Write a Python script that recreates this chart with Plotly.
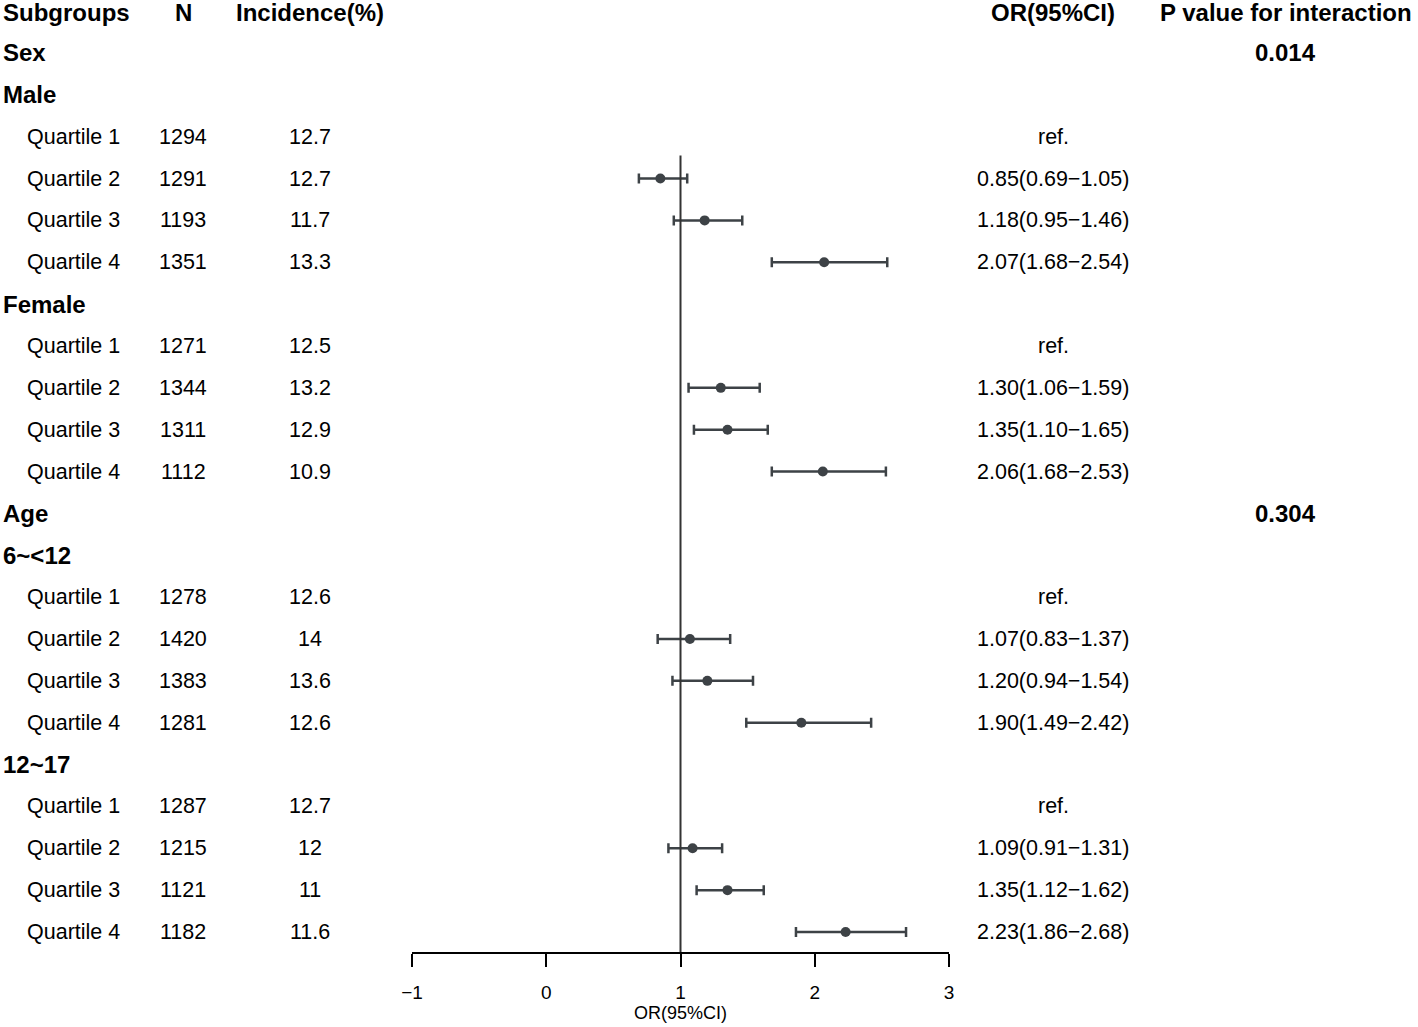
import plotly.graph_objects as go

# Row data (top to bottom, header excluded)
row_labels = ["Sex", "Male", "Quartile 1", "Quartile 2", "Quartile 3", "Quartile 4",
              "Female", "Quartile 1", "Quartile 2", "Quartile 3", "Quartile 4",
              "Age", "6~<12", "Quartile 1", "Quartile 2", "Quartile 3", "Quartile 4",
              "12~17", "Quartile 1", "Quartile 2", "Quartile 3", "Quartile 4"]
n_vals = ["", "", "1294", "1291", "1193", "1351",
          "", "1271", "1344", "1311", "1112",
          "", "", "1278", "1420", "1383", "1281",
          "", "1287", "1215", "1121", "1182"]
incidence = ["", "", "12.7", "12.7", "11.7", "13.3",
             "", "12.5", "13.2", "12.9", "10.9",
             "", "", "12.6", "14", "13.6", "12.6",
             "", "12.7", "12", "11", "11.6"]
or_est = [None, None, None, 0.85, 1.18, 2.07,
          None, None, 1.30, 1.35, 2.06,
          None, None, None, 1.07, 1.20, 1.90,
          None, None, 1.09, 1.35, 2.23]
ci_low = [None, None, None, 0.69, 0.95, 1.68,
          None, None, 1.06, 1.10, 1.68,
          None, None, None, 0.83, 0.94, 1.49,
          None, None, 0.91, 1.12, 1.86]
ci_high = [None, None, None, 1.05, 1.46, 2.54,
           None, None, 1.59, 1.65, 2.53,
           None, None, None, 1.37, 1.54, 2.42,
           None, None, 1.31, 1.62, 2.68]
p_interaction = ["0.014", "", "", "", "", "",
                 "", "", "", "", "",
                 "0.304", "", "", "", "", "",
                 "", "", "", "", ""]
headers = ["Subgroups", "N", "Incidence(%)", "OR(95%CI)", "P value for interaction"]
x_ticks = [-1, 0, 1, 2, 3]

FONT = "Liberation Sans, Arial, sans-serif"
W, H = 1418, 1027
PL, PR = 412, 949          # plot area in px
ROW0, STEP = 11.1, 41.86   # row centres in px
AX_Y = 952


def px_x(p):
    return (p - PL) / (PR - PL)


ys = list(range(1, len(row_labels) + 1))

fig = go.Figure()

fig.add_trace(go.Scatter(
    x=or_est, y=ys, mode="markers",
    marker=dict(size=10, color="#3d4246"),
    error_x=dict(type="data", symmetric=False,
                 array=[None if e is None else h - e for e, h in zip(or_est, ci_high)],
                 arrayminus=[None if e is None else e - l for e, l in zip(or_est, ci_low)],
                 color="#3d4246", thickness=2.5, width=5),
    showlegend=False, hoverinfo="skip"))

# reference line at OR = 1
fig.add_shape(type="line", xref="x", yref="y", x0=1, x1=1,
              y0=3.45, y1=(AX_Y - ROW0) / STEP,
              line=dict(color="#333333", width=2))

ann = []
col_x = {"N": px_x(183), "inc": px_x(310), "or": px_x(1053), "p": px_x(1285.5)}

# headers (nudged a touch lower so the text box stays inside the page)
hy = 0.03
ann.append(dict(x=px_x(2), y=hy, text="<b>%s</b>" % headers[0], xanchor="left", size=24))
ann.append(dict(x=col_x["N"], y=hy, text="<b>%s</b>" % headers[1], xanchor="center", size=24))
ann.append(dict(x=col_x["inc"], y=hy, text="<b>%s</b>" % headers[2], xanchor="center", size=24))
ann.append(dict(x=col_x["or"], y=hy, text="<b>%s</b>" % headers[3], xanchor="center", size=24))
ann.append(dict(x=col_x["p"], y=hy, text="<b>%s</b>" % headers[4], xanchor="center", size=24))

for i, lab in enumerate(row_labels):
    y = ys[i]
    is_q = lab.startswith("Quartile")
    if is_q:
        ann.append(dict(x=px_x(26), y=y, text=lab, xanchor="left", size=21.5))
    else:
        ann.append(dict(x=px_x(2), y=y, text="<b>%s</b>" % lab, xanchor="left", size=24))
    if n_vals[i]:
        ann.append(dict(x=col_x["N"], y=y, text=n_vals[i], xanchor="center", size=21.5))
    if incidence[i]:
        ann.append(dict(x=col_x["inc"], y=y, text=incidence[i], xanchor="center", size=21.5))
    if is_q:
        if or_est[i] is None:
            t = "ref."
        else:
            t = "%.2f(%.2f\u2212%.2f)" % (or_est[i], ci_low[i], ci_high[i])
        ann.append(dict(x=col_x["or"], y=y, text=t, xanchor="center", size=21.5))
    if p_interaction[i]:
        ann.append(dict(x=col_x["p"], y=y, text="<b>%s</b>" % p_interaction[i],
                        xanchor="center", size=24))

for a in ann:
    fig.add_annotation(x=a["x"], y=a["y"], xref="paper", yref="y", text=a["text"],
                       xanchor=a["xanchor"], yanchor="middle", showarrow=False,
                       borderpad=0,
                       font=dict(family=FONT, size=a["size"], color="black"))

fig.update_layout(
    width=W, height=H,
    margin=dict(l=PL, r=W - PR, t=0, b=H - AX_Y, pad=0),
    plot_bgcolor="white", paper_bgcolor="white",
    font=dict(family=FONT, color="black"),
    xaxis=dict(range=[-1, 3], tickvals=x_ticks, showgrid=False, zeroline=False,
               showline=True, linecolor="black", linewidth=1.5,
               ticks="outside", ticklen=13, tickwidth=1.5, tickcolor="black",
               tickfont=dict(family=FONT, size=19, color="black"),
               ticklabelstandoff=9,
               title=dict(text="OR(95%CI)", font=dict(family=FONT, size=18, color="black"),
                          standoff=4)),
    yaxis=dict(range=[(AX_Y - ROW0) / STEP, -ROW0 / STEP], visible=False,
               showgrid=False, zeroline=False),
)

# page body has a default 8px margin; drop it so the figure sits at the corner
fig.write_html("out.html", config={"displayModeBar": False},
               post_script="document.body.style.margin='0px';")
